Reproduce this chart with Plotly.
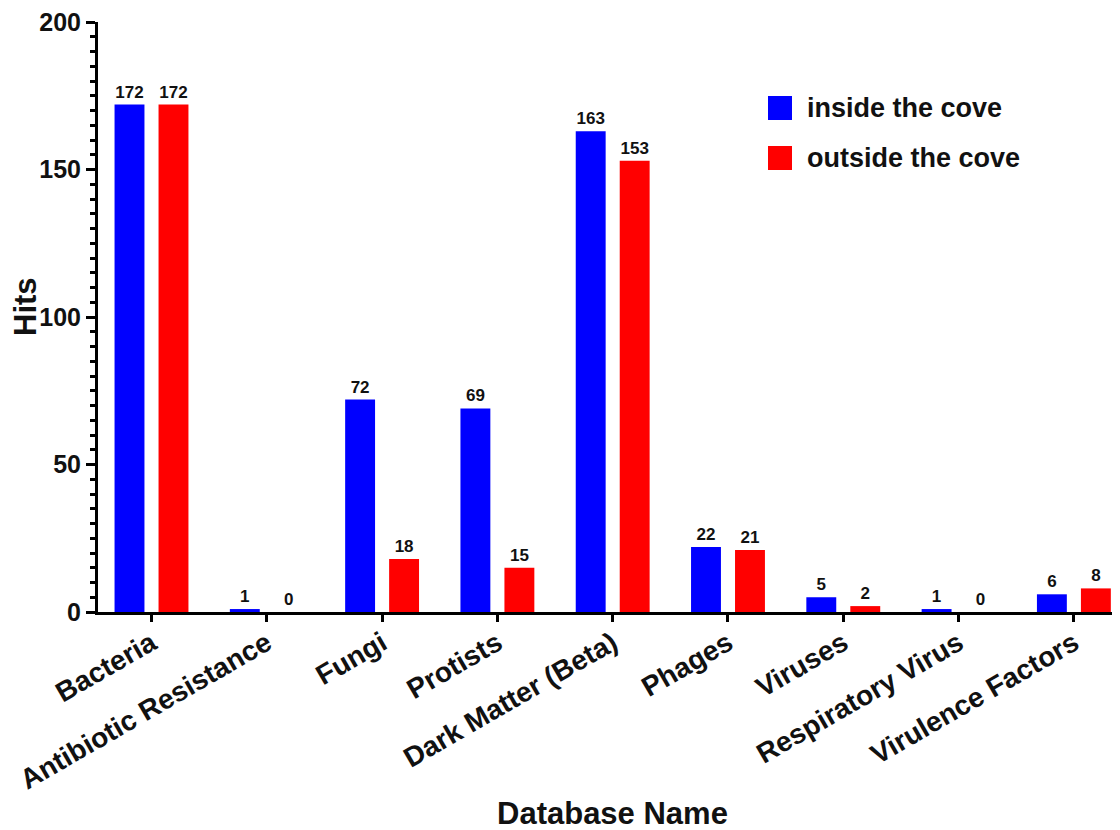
import plotly.graph_objects as go

categories = ["Bacteria", "Antibiotic Resistance", "Fungi", "Protists", "Dark Matter (Beta)",
              "Phages", "Viruses", "Respiratory Virus", "Virulence Factors"]
inside_vals = [172, 1, 72, 69, 163, 22, 5, 1, 6]
outside_vals = [172, 0, 18, 15, 153, 21, 2, 0, 8]
series_names = ["inside the cove", "outside the cove"]
series_colors = ["#0000FF", "#FF0000"]
y_ticks = [0, 50, 100, 150, 200]
x_title = "Database Name"
y_title = "Hits"

FONT = "Arial, Liberation Sans, Helvetica, sans-serif"
TXT = "#111111"

fig = go.Figure()
for name, vals, col in zip(series_names, [inside_vals, outside_vals], series_colors):
    fig.add_trace(go.Bar(
        x=categories, y=vals, name=name,
        marker=dict(color=col, line=dict(width=0)),
        text=["<b>%d</b>" % v for v in vals], textposition="outside",
        textfont=dict(family=FONT, size=17, color=TXT),
        cliponaxis=False, showlegend=False,
    ))

# page body has an 8px margin; work in window pixels and subtract it
OFF = 8
WIN_W, WIN_H = 1120, 830
W, H = WIN_W - OFF, WIN_H - OFF
# plot area in window pixels
PL, PR, PT, PB = 98, 1120, 22, 612
L, R, T, B = PL - OFF, WIN_W - PR, PT - OFF, WIN_H - PB
pw, ph = W - L - R, H - T - B

def px(x):
    return (x - OFF - L) / pw

def py(y):
    return (H - B - (y - OFF)) / ph

shapes = []
annotations = []
for i, (name, col) in enumerate(zip(series_names, series_colors)):
    yc = 108 + i * 50
    shapes.append(dict(type="rect", xref="paper", yref="paper",
                       x0=px(768), x1=px(792), y0=py(yc + 12), y1=py(yc - 12),
                       fillcolor=col, line=dict(width=0)))
    annotations.append(dict(xref="paper", yref="paper", x=px(805), y=py(yc),
                            xanchor="left", yanchor="middle", showarrow=False,
                            text="<b>%s</b>" % name,
                            font=dict(family=FONT, size=27, color=TXT)))

annotations.append(dict(xref="paper", yref="paper", x=px(612), y=py(813),
                        xanchor="center", yanchor="middle", showarrow=False,
                        text="<b>%s</b>" % x_title, font=dict(family=FONT, size=31, color=TXT)))
annotations.append(dict(xref="paper", yref="paper", x=px(25), y=py(307),
                        xanchor="center", yanchor="middle", showarrow=False, textangle=-90,
                        text="<b>%s</b>" % y_title, font=dict(family=FONT, size=31, color=TXT)))

fig.update_layout(
    width=W, height=H,
    margin=dict(l=L, r=R, t=T, b=B, autoexpand=False),
    paper_bgcolor="white", plot_bgcolor="white",
    barmode="group", bargap=0.237, bargroupgap=0.32,
    font=dict(family=FONT, color=TXT),
    shapes=shapes, annotations=annotations,
    xaxis=dict(
        range=[-0.464, 8.40], tickangle=-30, automargin=False,
        tickfont=dict(family=FONT, size=28, color=TXT, weight="bold"),
        ticklabelstandoff=-6, ticklabeloverflow="allow",
        showline=True, linecolor="black", linewidth=3,
        ticks="outside", ticklen=7, tickwidth=3, tickcolor="black",
        showgrid=False, zeroline=False,
    ),
    yaxis=dict(
        range=[0, 200], tickvals=y_ticks, automargin=False,
        tickfont=dict(family=FONT, size=25, color=TXT, weight="bold"),
        ticklabeloverflow="allow",
        showline=True, linecolor="black", linewidth=3,
        ticks="outside", ticklen=9, tickwidth=3, tickcolor="black",
        minor=dict(dtick=5, ticks="outside", ticklen=5, tickwidth=3, tickcolor="black", showgrid=False),
        showgrid=False, zeroline=False,
    ),
)

fig.write_html("out.html")
